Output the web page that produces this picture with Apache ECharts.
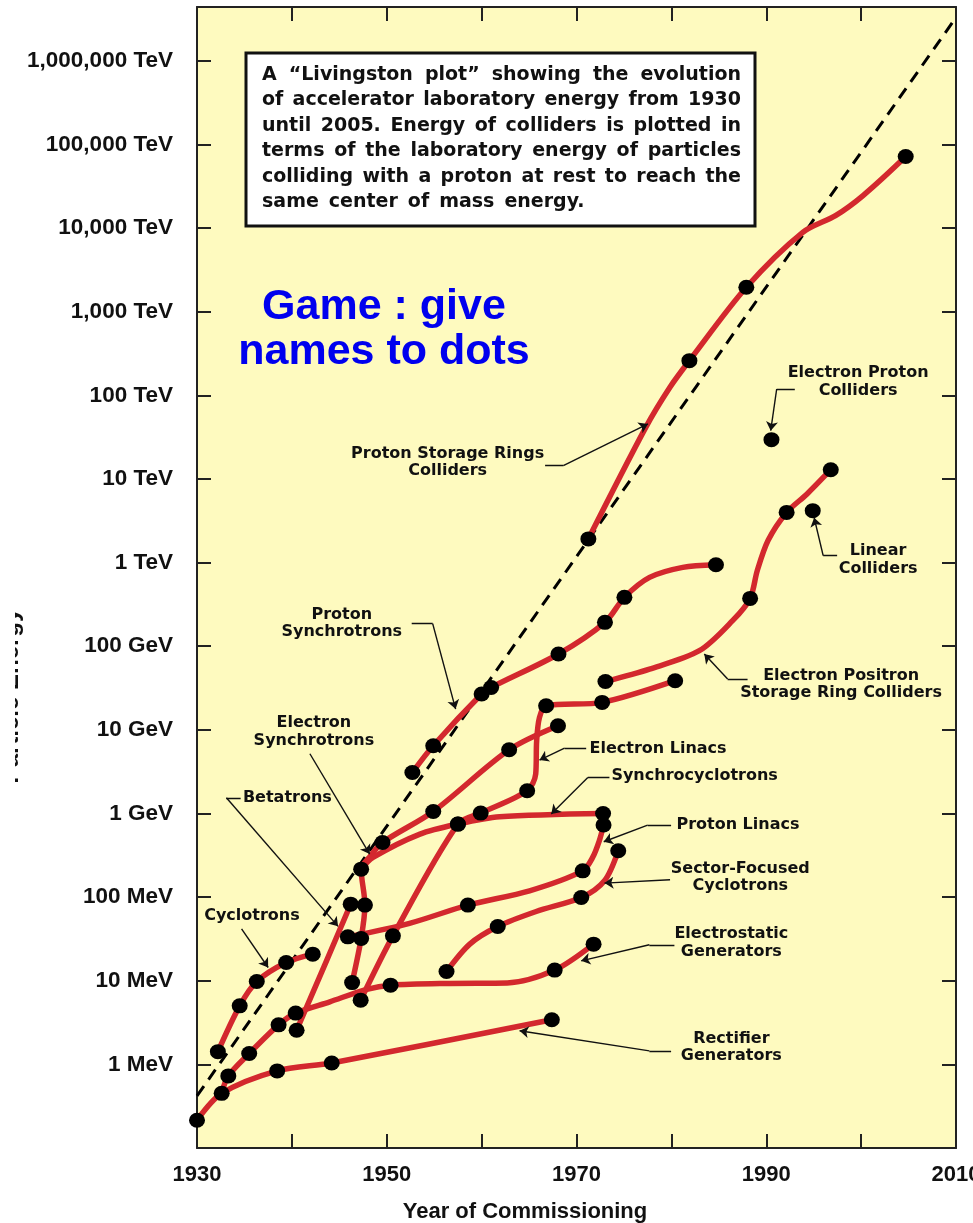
<!DOCTYPE html>
<html>
<head>
<meta charset="utf-8">
<title>Livingston plot</title>
<script src="https://cdn.jsdelivr.net/npm/echarts@6/dist/echarts.min.js"></script>
<style>
  html, body { margin: 0; padding: 0; background: #fff; }
  #chart { width: 973px; height: 1223px; }
</style>
</head>
<body>
<div id="chart"></div>
<script>
// energies in MeV, x in year of commissioning
// each point: [year, MeV, 1 = accelerator dot / 0 = curve shape]
const energyTickLabels = ['1 MeV', '10 MeV', '100 MeV', '1 GeV', '10 GeV', '100 GeV', '1 TeV',
  '10 TeV', '100 TeV', '1,000 TeV', '10,000 TeV', '100,000 TeV', '1,000,000 TeV']
const yearTickLabels = [1930, 1950, 1970, 1990, 2010]

const rectifierGenerators = [[1930.0, 0.215, 1], [1932.6, 0.45, 1], [1938.45, 0.836, 1], [1944.2, 1.04, 1], [1967.4, 3.41, 1]]
const electrostaticGenerators = [[1932.6, 0.45, 0], [1933.3, 0.728, 1], [1935.5, 1.35, 1], [1938.6, 2.97, 1], [1940.4, 4.1, 1],
  [1944.0, 5.6, 0], [1947.9, 7.9, 0], [1950.4, 8.86, 1], [1956.6, 9.3, 0], [1962.7, 9.4, 0], [1967.7, 13.4, 1], [1971.8, 27.4, 1]]
const cyclotrons = [[1932.2, 1.42, 1], [1934.5, 5.01, 1], [1936.3, 9.78, 1], [1939.4, 16.5, 1], [1942.2, 20.8, 1]]
const betatrons = [[1940.5, 2.56, 1], [1943.65, 17.3, 0], [1946.2, 82.4, 1]]
const electronSynchrotrons = [[1946.35, 9.5, 1], [1947.3, 32, 1], [1947.7, 80.2, 1], [1947.3, 216, 1], [1948.2, 303, 0],
  [1949.55, 450, 1], [1954.9, 1057, 1], [1962.9, 5780, 1], [1968.05, 11200, 1]]
const synchrocyclotrons = [[1947.3, 216, 0], [1948.55, 298, 0], [1953.5, 567, 0], [1957.5, 747, 1], [1961.9, 912, 0], [1972.8, 1000, 1]]
const protonLinacs = [[1945.9, 33.5, 1], [1952.4, 48.6, 0], [1958.55, 80.2, 1], [1965.05, 119, 0], [1970.65, 206, 1],
  [1971.7, 298, 0], [1972.4, 471, 0], [1972.85, 727, 1]]
const sectorFocusedCyclotrons = [[1956.3, 12.9, 1], [1958.75, 27.4, 0], [1961.7, 44.5, 1], [1965.75, 67.3, 0], [1970.5, 98.9, 1],
  [1972.95, 157, 0], [1974.4, 358, 1]]
const electronLinacs = [[1947.25, 5.86, 1], [1950.65, 34.4, 1], [1957.5, 747, 1], [1959.9, 1010, 1], [1964.8, 1870, 1],
  [1965.7, 2960, 0], [1965.8, 7410, 0], [1966.1, 14100, 0], [1966.8, 19400, 1], [1972.7, 21300, 1], [1980.4, 38700, 1]]
const protonSynchrotrons = [[1952.7, 3090, 1], [1954.9, 6450, 1], [1960.0, 26800, 1], [1961.0, 32100, 1], [1968.1, 80700, 1],
  [1973.0, 193000, 1], [1975.05, 384000, 1], [1977.7, 665000, 0], [1981.2, 877000, 0], [1984.7, 944000, 1]]
const electronPositronColliders = [[1973.05, 37900, 1], [1977.7, 53300, 0], [1982.95, 88300, 0], [1986.45, 202000, 0],
  [1988.3, 373000, 1], [1989.05, 8.0e5, 0], [1990.2, 1.85e6, 0], [1992.15, 3.98e6, 1], [1994.3, 6.62e6, 0], [1996.8, 1.29e7, 1]]
const protonStorageRingColliders = [[1971.25, 1.92e6, 1], [1977.3, 4.14e7, 0], [1979.85, 1.25e8, 0], [1981.9, 2.6e8, 1],
  [1987.9, 1.96e9, 1], [1993.85, 8.9e9, 0], [1997.3, 1.41e10, 0], [2000.2, 2.45e10, 0], [2004.7, 7.17e10, 1]]
const electronProtonColliders = [[1990.55, 2.95e7]]
const linearColliders = [[1994.9, 4.18e6]]
const dashedTrend = [[1930, 0.42], [2010, 3.3e12]]

const families = [rectifierGenerators, electrostaticGenerators, cyclotrons, betatrons, electronSynchrotrons,
  synchrocyclotrons, protonLinacs, sectorFocusedCyclotrons, electronLinacs, protonSynchrotrons,
  electronPositronColliders, protonStorageRingColliders]

// labels and leader lines, anchored in data space [year, MeV]
const annotations = [
  { text: 'Cyclotrons', at: [1935.79, 59.7] },
  { text: 'Betatrons', at: [1934.84, 1541], align: 'left' },
  { text: 'Electron\nSynchrotrons', at: [1942.32, 9490] },
  { text: 'Proton\nSynchrotrons', at: [1945.26, 188400] },
  { text: 'Proton Storage Rings\nColliders', at: [1956.42, 1.589e7] },
  { text: 'Electron Proton\nColliders', at: [1999.68, 1.459e8] },
  { text: 'Linear\nColliders', at: [2001.79, 1.083e6] },
  { text: 'Electron Positron\nStorage Ring Colliders', at: [1997.89, 35100] },
  { text: 'Electron Linacs', at: [1971.37, 5943], align: 'left' },
  { text: 'Synchrocyclotrons', at: [1973.68, 2825], align: 'left' },
  { text: 'Proton Linacs', at: [1980.53, 732], align: 'left' },
  { text: 'Sector-Focused\nCyclotrons', at: [1987.26, 172.6] },
  { text: 'Electrostatic\nGenerators', at: [1986.32, 28.4] },
  { text: 'Rectifier\nGenerators', at: [1986.32, 1.6] }
]
const leaders = [
  [[1934.7, 41.8], [1937.5, 14.4]],
  [[1934.6, 1542], [1933.1, 1542], [1944.87, 44.7]],
  [[1941.9, 5180], [1948.2, 327]],
  [[1952.63, 186000], [1954.84, 186000], [1957.26, 17700]],
  [[1966.69, 1.44e7], [1968.61, 1.44e7], [1977.53, 4.55e7]],
  [[1993.01, 1.19e8], [1991.1, 1.19e8], [1990.47, 3.78e7]],
  [[1997.47, 1.21e6], [1996.0, 1.21e6], [1995.05, 3.44e6]],
  [[1988.03, 40500], [1985.93, 40500], [1983.47, 80700]],
  [[1971.02, 6060], [1968.74, 6060], [1966.1, 4350]],
  [[1973.47, 2700], [1971.19, 2700], [1967.34, 984]],
  [[1979.97, 727], [1977.5, 727], [1972.87, 459]],
  [[1979.86, 161], [1972.95, 147]],
  [[1980.32, 26.9], [1977.68, 26.9], [1970.49, 17.3]],
  [[1979.97, 1.45], [1977.68, 1.45], [1964.0, 2.52]]
]

const boxLines = [
  'A \u201cLivingston plot\u201d showing the evolution',
  'of accelerator laboratory energy from 1930',
  'until 2005. Energy of colliders is plotted in',
  'terms of the laboratory energy of particles',
  'colliding with a proton at rest to reach the',
  'same center of mass energy.'
]

const RED = '#d3282e'
const INK = '#111'
const AXIS_FONT = 'Liberation Sans'
const NOTE_FONT = 'bold 16px "DejaVu Sans"'
const BOX_FONT = 'bold 19px "DejaVu Sans"'

const chart = echarts.init(document.getElementById('chart'))

const frameLine = { show: true, onZero: false, lineStyle: { color: '#222', width: 2 } }
const tickStyle = { show: true, inside: true, length: 14, lineStyle: { color: '#222', width: 2 } }

const xAxisBase = { type: 'value', min: 1930, max: 2010, interval: 10, axisLine: frameLine, axisTick: tickStyle, splitLine: { show: false } }
const yAxisBase = { type: 'log', logBase: 10, min: 0.1, max: 4.4e12, interval: 1, axisLine: frameLine, axisTick: tickStyle,
  splitLine: { show: false }, minorTick: { show: false } }

const leaderSegments = []
const leaderTips = []
leaders.forEach((path) => {
  for (let i = 0; i < path.length - 1; i++) {
    const seg = { coords: [path[i], path[i + 1]] }
    if (i === path.length - 2) leaderTips.push(seg)
    else leaderSegments.push(seg)
  }
})

const dotData = families
  .flatMap((f) => f.filter((p) => p[2] === 1).map((p) => [p[0], p[1]]))
  .concat(electronProtonColliders, linearColliders)

const option = {
  animation: false,
  backgroundColor: '#fff',
  grid: { left: 197, right: 17, top: 7, bottom: 75, show: true, backgroundColor: '#fefabf', borderWidth: 0, outerBoundsMode: 'none' },
  xAxis: [
    { ...xAxisBase, position: 'bottom',
      axisLabel: { margin: 16, color: INK, fontFamily: AXIS_FONT, fontWeight: 'bold', fontSize: 22,
        formatter: (v) => (yearTickLabels.includes(v) ? String(v) : '') } },
    { ...xAxisBase, position: 'top', axisLabel: { show: false } }
  ],
  yAxis: [
    { ...yAxisBase, position: 'left',
      axisLabel: { margin: 24, color: INK, fontFamily: AXIS_FONT, fontWeight: 'bold', fontSize: 22.5,
        formatter: (v) => {
          const e = Math.log10(v)
          const r = Math.round(e)
          if (Math.abs(e - r) > 1e-6 || r < 0 || r >= energyTickLabels.length) return ''
          return energyTickLabels[r]
        } } },
    { ...yAxisBase, position: 'right', axisLabel: { show: false } }
  ],
  series: [
    {
      type: 'line', data: dashedTrend, symbol: 'none', silent: true, z: 2,
      lineStyle: { color: '#000', width: 3, type: [12, 8] }
    },
    ...families.map((f) => ({
      type: 'line', data: f.map((p) => [p[0], p[1]]), smooth: 0.3, symbol: 'none', showSymbol: false, silent: true, z: 3,
      lineStyle: { color: RED, width: 5.5, cap: 'round', join: 'round' }
    })),
    {
      type: 'lines', coordinateSystem: 'cartesian2d', data: leaderSegments, symbol: 'none', silent: true, z: 4,
      lineStyle: { color: INK, width: 1.4, opacity: 1, curveness: 0 }
    },
    {
      type: 'lines', coordinateSystem: 'cartesian2d', data: leaderTips, symbol: ['none', 'arrow'], symbolSize: 9, silent: true, z: 4,
      lineStyle: { color: INK, width: 1.4, opacity: 1, curveness: 0 }
    },
    {
      type: 'scatter', data: dotData, symbol: 'circle', symbolSize: [16, 15], silent: true, z: 5,
      itemStyle: { color: '#000', opacity: 1 }
    }
  ]
}

chart.setOption(option)

// justified caption box
const measureCtx = document.createElement('canvas').getContext('2d')
const textWidth = (str, font) => {
  measureCtx.font = font
  return measureCtx.measureText(str).width
}

const graphics = [
  { type: 'rect', z: 100, shape: { x: 246, y: 53, width: 509, height: 173 }, style: { fill: '#fff', stroke: INK, lineWidth: 3 } }
]
boxLines.forEach((line, i) => {
  const words = line.split(' ')
  const widths = words.map((w) => textWidth(w, BOX_FONT))
  const total = widths.reduce((a, b) => a + b, 0)
  const last = i === boxLines.length - 1
  const gap = last ? 10 : (741 - 262 - total) / (words.length - 1)
  let x = 262
  words.forEach((w, j) => {
    graphics.push({ type: 'text', z: 101, x, y: 75 + i * 25.4,
      style: { text: w, font: BOX_FONT, fill: INK, align: 'left', verticalAlign: 'middle' } })
    x += widths[j] + gap
  })
})

graphics.push(
  { type: 'text', z: 101, x: 384, y: 307, style: { text: 'Game : give', font: 'bold 43px "Liberation Sans"', fill: '#0000ee', align: 'center', verticalAlign: 'middle' } },
  { type: 'text', z: 101, x: 384, y: 352, style: { text: 'names to dots', font: 'bold 43px "Liberation Sans"', fill: '#0000ee', align: 'center', verticalAlign: 'middle' } },
  { type: 'text', z: 101, x: 525, y: 1212, style: { text: 'Year of Commissioning', font: 'bold 22px "Liberation Sans"', fill: INK, align: 'center', verticalAlign: 'middle' } },
  // y title, mostly cut off at the page edge like the scan
  { type: 'text', z: 101, x: 23, y: 696, rotation: Math.PI / 2, style: { text: 'Particle Energy', font: 'bold 24px "Liberation Sans"', fill: INK, align: 'center', verticalAlign: 'bottom' } },
  { type: 'rect', z: 102, shape: { x: 0, y: 560, width: 15, height: 260 }, style: { fill: '#fff' } }
)

annotations.forEach((a) => {
  const [px, py] = chart.convertToPixel({ xAxisIndex: 0, yAxisIndex: 0 }, a.at)
  graphics.push({ type: 'text', z: 101, x: px, y: py,
    style: { text: a.text, font: NOTE_FONT, fill: INK, align: a.align || 'center', verticalAlign: 'middle', lineHeight: 17.5 } })
})

chart.setOption({ graphic: { elements: graphics } })
</script>
</body>
</html>
